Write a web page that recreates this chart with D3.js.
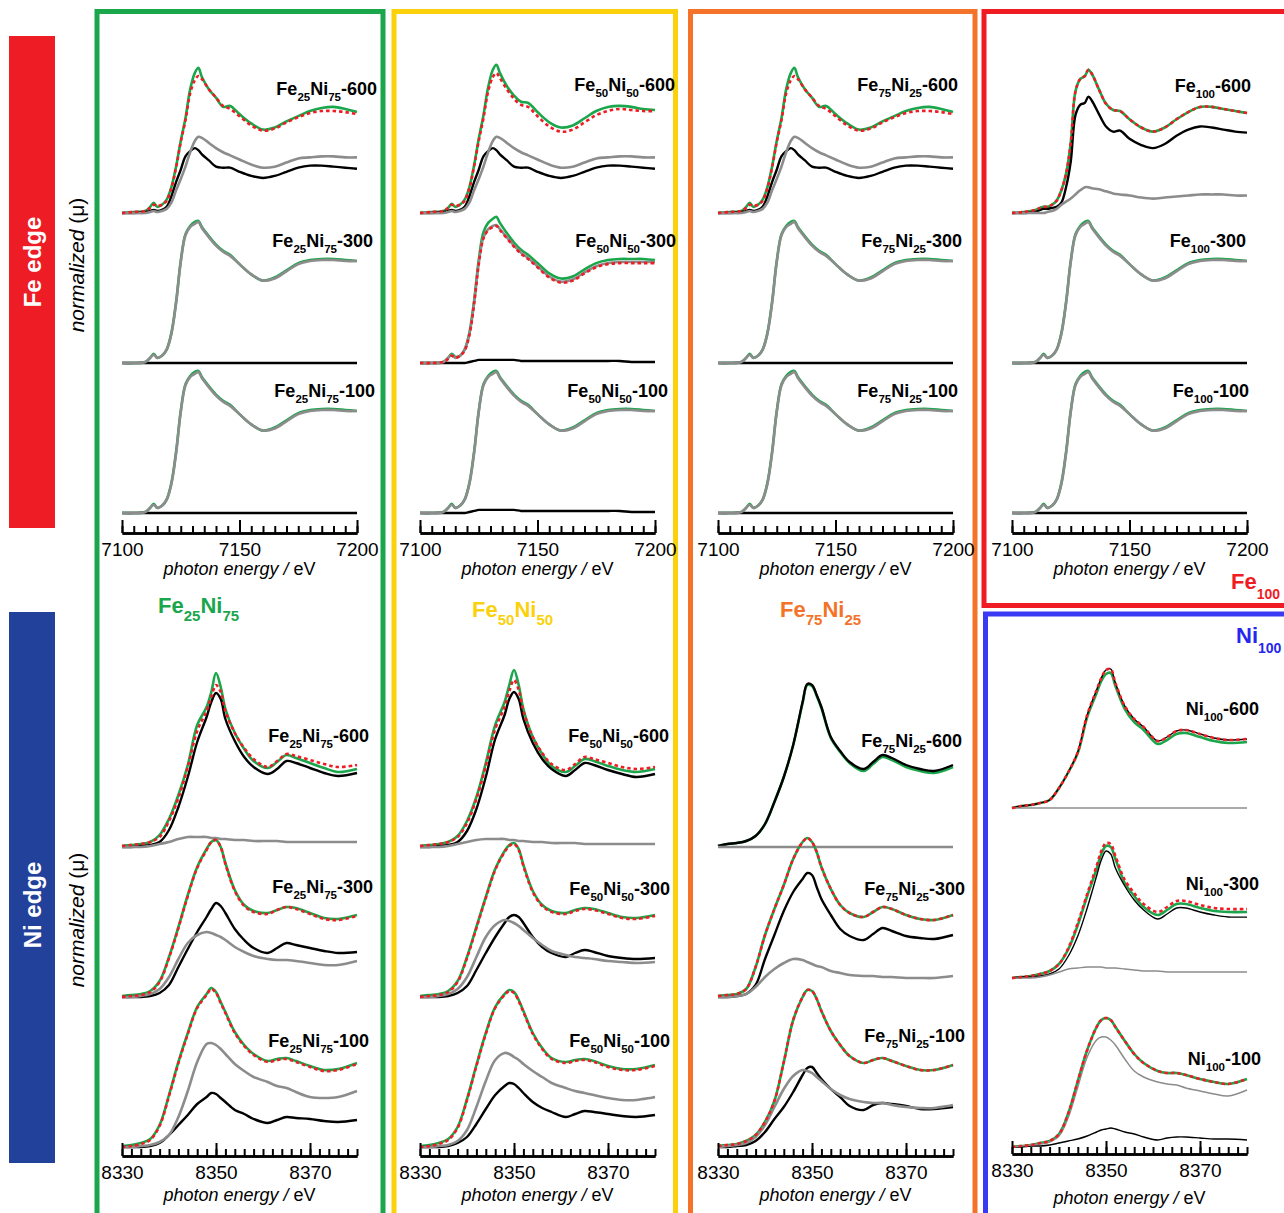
<!DOCTYPE html>
<html>
<head>
<meta charset="utf-8">
<script src="https://cdn.jsdelivr.net/npm/d3@7"></script>
<style>
  body { margin: 0; background: #fff; }
  svg text { font-family: "Liberation Sans", Arial, sans-serif; }
</style>
</head>
<body>
<svg id="chart" width="1284" height="1213"></svg>
<script>
// ---- energy grids and tick labels ----
var feEnergy = [7100, 7105, 7110, 7112, 7113.5, 7115, 7117, 7119, 7121, 7123, 7125, 7127, 7129, 7131, 7132.5,
  7134, 7137, 7140, 7143, 7146, 7150, 7155, 7160, 7165, 7170, 7175, 7180, 7185, 7190, 7195, 7200];
var niEnergy = [8330, 8332, 8334, 8336, 8338, 8340, 8342, 8344, 8346, 8348, 8349, 8350, 8351, 8352,
  8354, 8356, 8358, 8361, 8363, 8365, 8367, 8370, 8373, 8376, 8380];
var feTicks = [7100, 7150, 7200];
var niTicks = [8330, 8350, 8370];

// ---- Fe K-edge spectra (normalized) ----
var feZero = [0,0,0,0,0,0,0,0,0,0,0,0,0,0,0,0,0,0,0,0,0,0,0,0,0,0,0,0,0,0,0];
var feStdGray = [0,0,0.01,0.05,0.08,0.05,0.07,0.13,0.28,0.58,0.98,1.24,1.32,1.35,1.37,1.31,1.22,1.14,1.08,1.04,0.96,0.86,0.80,0.82,0.89,0.96,0.99,1.00,1.00,0.99,0.99];
var feStdGreen = [0,0,0.01,0.05,0.09,0.05,0.07,0.13,0.29,0.59,0.99,1.25,1.33,1.37,1.38,1.32,1.23,1.15,1.09,1.05,0.96,0.86,0.80,0.83,0.90,0.97,1.00,1.01,1.01,1.00,0.99];

var fe600Green = [0,0.01,0.02,0.06,0.10,0.06,0.08,0.13,0.25,0.45,0.70,0.92,1.20,1.36,1.41,1.32,1.20,1.12,1.03,1.04,0.96,0.87,0.81,0.83,0.89,0.94,0.99,1.02,1.03,1.01,0.98];
var fe600Red = [0,0.01,0.02,0.05,0.08,0.07,0.08,0.12,0.24,0.44,0.69,0.90,1.16,1.29,1.33,1.30,1.20,1.12,1.04,1.01,0.94,0.85,0.80,0.82,0.88,0.93,0.97,0.99,0.99,0.98,0.96];
var fe600Black = [0,0,0.01,0.02,0.03,0.02,0.03,0.06,0.16,0.30,0.42,0.55,0.60,0.63,0.61,0.57,0.51,0.45,0.44,0.44,0.40,0.36,0.34,0.36,0.40,0.44,0.46,0.46,0.45,0.44,0.43];
var fe600Gray = [0,0,0,0.01,0.02,0.01,0.02,0.04,0.10,0.22,0.33,0.45,0.59,0.70,0.74,0.73,0.68,0.63,0.59,0.56,0.52,0.47,0.44,0.45,0.49,0.53,0.54,0.55,0.55,0.54,0.54];

var feY600Green = [0,0.01,0.02,0.05,0.09,0.06,0.08,0.13,0.25,0.46,0.72,0.95,1.22,1.39,1.44,1.36,1.23,1.14,1.08,1.07,0.98,0.88,0.83,0.85,0.92,0.99,1.03,1.04,1.03,1.01,1.00];
var feY600Red = [0,0.01,0.02,0.05,0.08,0.07,0.08,0.12,0.24,0.45,0.70,0.92,1.18,1.32,1.36,1.31,1.20,1.11,1.05,1.03,0.94,0.84,0.79,0.81,0.88,0.95,0.99,1.01,1.00,0.99,0.99];
var feY300Green = [0,0,0.01,0.05,0.09,0.06,0.07,0.13,0.29,0.60,1.00,1.27,1.36,1.40,1.42,1.36,1.26,1.17,1.10,1.05,0.97,0.87,0.82,0.84,0.91,0.97,1.00,1.01,1.01,1.01,1.00];
var feY300Red = [0,0,0.01,0.04,0.07,0.05,0.07,0.12,0.27,0.57,0.96,1.21,1.29,1.32,1.33,1.29,1.21,1.13,1.06,1.01,0.93,0.83,0.78,0.80,0.87,0.93,0.96,0.97,0.97,0.97,0.97];
var feY300Gray = [0,0,0.01,0.05,0.08,0.05,0.07,0.13,0.28,0.58,0.97,1.22,1.30,1.33,1.34,1.30,1.22,1.14,1.07,1.02,0.94,0.84,0.79,0.81,0.88,0.94,0.97,0.98,0.98,0.98,0.98];
var feYBlackLow = [0,0,0,0,0,0,0,0,0.01,0.02,0.03,0.03,0.03,0.03,0.03,0.03,0.03,0.03,0.02,0.02,0.02,0.02,0.02,0.02,0.02,0.02,0.02,0.02,0.01,0.01,0.01];

var fe100Green600 = [0,0.01,0.03,0.05,0.06,0.06,0.08,0.12,0.22,0.38,0.68,1.18,1.30,1.33,1.39,1.35,1.20,1.06,1.00,0.99,0.91,0.83,0.79,0.83,0.91,0.98,1.03,1.03,1.01,0.99,0.97];
var fe100Black600 = [0,0,0.01,0.03,0.04,0.04,0.05,0.06,0.10,0.25,0.50,0.95,1.05,1.07,1.13,1.09,0.96,0.84,0.79,0.80,0.72,0.66,0.63,0.67,0.75,0.81,0.84,0.83,0.81,0.79,0.78];
var fe100Gray600 = [0,0,0,0,0,0.01,0.02,0.04,0.08,0.11,0.14,0.18,0.22,0.25,0.25,0.24,0.23,0.21,0.19,0.18,0.17,0.15,0.14,0.15,0.16,0.17,0.18,0.18,0.18,0.17,0.17];

// ---- Ni K-edge spectra (normalized) ----
var niZero = [0,0,0,0,0,0,0,0,0,0,0,0,0,0,0,0,0,0,0,0,0,0,0,0,0];

var niA600Green = [0.01,0.02,0.03,0.05,0.12,0.28,0.52,0.82,1.22,1.40,1.55,1.74,1.60,1.38,1.14,0.98,0.86,0.79,0.85,0.92,0.89,0.84,0.79,0.75,0.78];
var niA600Red = [0.01,0.02,0.03,0.05,0.10,0.26,0.49,0.80,1.16,1.36,1.50,1.62,1.55,1.36,1.14,0.99,0.88,0.80,0.86,0.93,0.91,0.87,0.83,0.80,0.82];
var niA600Black = [0,0,0.01,0.02,0.05,0.17,0.40,0.70,1.05,1.30,1.45,1.54,1.48,1.28,1.06,0.90,0.80,0.73,0.78,0.86,0.84,0.79,0.74,0.71,0.74];
var niA600Gray = [0,0,0,0.01,0.03,0.05,0.08,0.10,0.10,0.10,0.09,0.09,0.08,0.08,0.07,0.07,0.06,0.06,0.06,0.05,0.05,0.05,0.05,0.05,0.05];
var niA300Green = [0.01,0.02,0.03,0.06,0.16,0.40,0.70,1.02,1.30,1.48,1.55,1.57,1.50,1.34,1.07,0.92,0.86,0.84,0.87,0.90,0.89,0.84,0.79,0.78,0.82];
var niA300Red = [0,0.01,0.02,0.05,0.15,0.39,0.69,1.01,1.29,1.47,1.55,1.57,1.50,1.33,1.06,0.91,0.85,0.83,0.87,0.90,0.88,0.83,0.78,0.77,0.81];
var niA300Black = [0,0,0,0.01,0.04,0.12,0.30,0.48,0.65,0.80,0.88,0.94,0.91,0.84,0.68,0.57,0.49,0.44,0.49,0.54,0.52,0.49,0.46,0.44,0.45];
var niA300Gray = [0,0,0.01,0.03,0.08,0.20,0.38,0.54,0.62,0.65,0.64,0.62,0.60,0.57,0.50,0.45,0.41,0.38,0.37,0.37,0.36,0.34,0.32,0.32,0.36];
var niA100Green = [0.01,0.02,0.04,0.08,0.22,0.52,0.85,1.14,1.40,1.53,1.59,1.55,1.45,1.35,1.15,1.02,0.93,0.86,0.88,0.89,0.86,0.81,0.77,0.78,0.84];
var niA100Red = [0,0.01,0.03,0.07,0.21,0.51,0.84,1.13,1.39,1.52,1.58,1.54,1.44,1.34,1.14,1.01,0.92,0.85,0.87,0.88,0.85,0.80,0.76,0.77,0.83];
var niA100Gray = [0,0,0.01,0.02,0.05,0.12,0.30,0.56,0.85,1.03,1.04,1.02,0.98,0.93,0.83,0.76,0.70,0.65,0.61,0.59,0.55,0.50,0.49,0.50,0.56];
var niA100Black = [0,0,0,0.01,0.04,0.12,0.22,0.32,0.43,0.50,0.54,0.53,0.49,0.45,0.37,0.33,0.28,0.24,0.27,0.30,0.29,0.28,0.26,0.25,0.27];

var niB600Green = [0.01,0.02,0.03,0.05,0.11,0.26,0.50,0.84,1.22,1.45,1.62,1.77,1.62,1.38,1.10,0.93,0.81,0.75,0.81,0.88,0.86,0.81,0.77,0.75,0.78];
var niB600Red = [0.01,0.02,0.03,0.05,0.10,0.24,0.48,0.81,1.18,1.40,1.56,1.67,1.57,1.36,1.10,0.94,0.83,0.77,0.83,0.90,0.88,0.84,0.80,0.78,0.80];
var niB600Black = [0,0,0.01,0.02,0.05,0.16,0.38,0.70,1.08,1.32,1.48,1.55,1.48,1.28,1.04,0.88,0.78,0.71,0.77,0.84,0.82,0.77,0.73,0.70,0.73];
var niB600Gray = [0,0,0,0.01,0.03,0.05,0.07,0.08,0.08,0.08,0.07,0.07,0.06,0.06,0.05,0.05,0.04,0.04,0.04,0.03,0.03,0.03,0.03,0.03,0.03];
var niB300Green = [0.01,0.02,0.03,0.06,0.16,0.40,0.70,1.00,1.28,1.46,1.52,1.54,1.48,1.32,1.06,0.92,0.86,0.84,0.87,0.89,0.88,0.84,0.80,0.79,0.82];
var niB300Red = [0,0.01,0.02,0.05,0.15,0.39,0.69,0.99,1.27,1.45,1.51,1.53,1.47,1.31,1.05,0.91,0.85,0.83,0.86,0.88,0.87,0.83,0.79,0.78,0.81];
var niB300Black = [0,0,0,0.01,0.04,0.11,0.27,0.44,0.60,0.74,0.80,0.82,0.80,0.74,0.60,0.50,0.44,0.40,0.44,0.47,0.45,0.41,0.39,0.38,0.39];
var niB300Gray = [0,0,0.01,0.03,0.08,0.20,0.40,0.60,0.72,0.77,0.76,0.74,0.71,0.67,0.59,0.52,0.46,0.42,0.40,0.39,0.38,0.36,0.35,0.34,0.35];
var niB100Green = [0.01,0.02,0.04,0.08,0.20,0.48,0.82,1.14,1.40,1.53,1.57,1.55,1.47,1.36,1.14,0.99,0.89,0.85,0.87,0.88,0.86,0.81,0.78,0.78,0.82];
var niB100Red = [0,0.01,0.03,0.07,0.19,0.47,0.81,1.13,1.39,1.52,1.56,1.54,1.46,1.35,1.13,0.98,0.88,0.84,0.86,0.87,0.85,0.80,0.77,0.77,0.81];
var niB100Gray = [0,0,0.01,0.02,0.06,0.17,0.40,0.66,0.87,0.94,0.93,0.90,0.87,0.83,0.76,0.70,0.64,0.59,0.56,0.54,0.52,0.49,0.47,0.47,0.50];
var niB100Black = [0,0,0,0.01,0.04,0.10,0.23,0.38,0.52,0.61,0.64,0.63,0.59,0.54,0.45,0.39,0.35,0.30,0.33,0.36,0.35,0.33,0.31,0.30,0.32];

var niC600Black = [0.01,0.03,0.04,0.06,0.11,0.23,0.45,0.70,1.02,1.45,1.63,1.62,1.52,1.40,1.10,0.96,0.85,0.78,0.85,0.92,0.89,0.82,0.78,0.76,0.82];
var niC600Green = [0.01,0.03,0.04,0.06,0.11,0.23,0.45,0.70,1.02,1.44,1.62,1.61,1.51,1.39,1.09,0.95,0.84,0.76,0.83,0.90,0.87,0.80,0.76,0.74,0.80];
var niC300Green = [0.01,0.02,0.03,0.08,0.30,0.62,0.88,1.12,1.38,1.55,1.59,1.55,1.45,1.30,1.08,0.92,0.84,0.80,0.85,0.90,0.88,0.82,0.78,0.77,0.82];
var niC300Red = [0.01,0.02,0.03,0.08,0.30,0.62,0.88,1.12,1.38,1.55,1.59,1.55,1.45,1.30,1.08,0.92,0.84,0.80,0.85,0.90,0.88,0.82,0.78,0.77,0.82];
var niC300Black = [0,0,0.01,0.03,0.12,0.38,0.62,0.86,1.05,1.18,1.24,1.22,1.10,0.98,0.82,0.68,0.61,0.57,0.63,0.69,0.66,0.61,0.59,0.58,0.62];
var niC300Gray = [0,0,0.01,0.03,0.10,0.20,0.28,0.34,0.38,0.37,0.35,0.33,0.31,0.30,0.26,0.24,0.22,0.21,0.21,0.20,0.20,0.19,0.19,0.19,0.21];
var niC100Green = [0.01,0.02,0.03,0.06,0.12,0.25,0.46,0.85,1.27,1.50,1.57,1.56,1.48,1.36,1.16,1.02,0.91,0.84,0.87,0.89,0.86,0.81,0.77,0.77,0.82];
var niC100Red = [0.01,0.02,0.03,0.06,0.12,0.25,0.46,0.85,1.27,1.50,1.57,1.56,1.48,1.36,1.16,1.02,0.91,0.84,0.87,0.89,0.86,0.81,0.77,0.77,0.82];
var niC100Gray = [0,0.01,0.02,0.04,0.10,0.22,0.40,0.58,0.71,0.77,0.76,0.74,0.70,0.66,0.58,0.52,0.48,0.45,0.44,0.44,0.42,0.40,0.39,0.39,0.42];
var niC100Black = [0,0,0.01,0.02,0.06,0.15,0.28,0.40,0.55,0.72,0.79,0.80,0.74,0.68,0.58,0.50,0.41,0.37,0.42,0.44,0.43,0.41,0.38,0.38,0.40];

var niD600Black = [0,0.02,0.03,0.05,0.08,0.20,0.36,0.56,0.93,1.18,1.30,1.38,1.39,1.25,1.02,0.89,0.81,0.67,0.71,0.77,0.78,0.74,0.70,0.68,0.69];
var niD600Green = [0,0.02,0.03,0.05,0.08,0.20,0.36,0.55,0.91,1.15,1.27,1.34,1.35,1.22,0.99,0.86,0.78,0.64,0.68,0.74,0.75,0.71,0.67,0.65,0.66];
var niD300Red = [0,0.01,0.02,0.04,0.07,0.14,0.30,0.55,0.84,1.12,1.27,1.35,1.34,1.22,0.98,0.85,0.74,0.66,0.71,0.77,0.77,0.73,0.70,0.69,0.69];
var niD300Green = [0,0.01,0.02,0.04,0.07,0.14,0.29,0.53,0.82,1.09,1.24,1.32,1.31,1.19,0.95,0.82,0.71,0.63,0.68,0.74,0.74,0.70,0.67,0.66,0.66];
var niD300Black = [0,0.01,0.01,0.02,0.04,0.09,0.22,0.42,0.70,1.02,1.18,1.27,1.24,1.10,0.92,0.78,0.68,0.59,0.64,0.70,0.70,0.66,0.63,0.61,0.61];
var niD300Gray = [0,0,0,0.01,0.03,0.06,0.09,0.10,0.11,0.11,0.11,0.10,0.10,0.10,0.09,0.08,0.07,0.07,0.06,0.06,0.06,0.06,0.06,0.06,0.06];
var niD100Green = [0,0.01,0.02,0.04,0.06,0.13,0.34,0.66,0.97,1.20,1.27,1.29,1.27,1.20,1.06,0.93,0.84,0.76,0.74,0.74,0.72,0.68,0.65,0.63,0.68];
var niD100Red = [0,0.01,0.02,0.04,0.06,0.13,0.34,0.66,0.97,1.20,1.27,1.29,1.27,1.20,1.06,0.93,0.84,0.76,0.74,0.74,0.72,0.68,0.65,0.63,0.68];
var niD100Gray = [0,0.01,0.02,0.03,0.05,0.11,0.30,0.60,0.90,1.07,1.10,1.10,1.07,1.02,0.88,0.76,0.70,0.65,0.63,0.62,0.59,0.56,0.53,0.51,0.57];
var niD100Black = [0,0,0.01,0.01,0.02,0.04,0.06,0.08,0.11,0.15,0.17,0.18,0.19,0.18,0.15,0.13,0.10,0.07,0.09,0.10,0.10,0.09,0.08,0.08,0.07];

// ---- sample names ----
var compositions = [['25', '75'], ['50', '50'], ['75', '25'], ['100', null]];
var temperatures = ['-600', '-300', '-100'];

// Layout
var colX = [122, 420, 718, 1012], colW = 235;
var feBase = [213, 363, 513], feUnit = 103, feAxisY = 533;
var niBase = [[847, 997, 1147], [847, 997, 1147], [847, 997, 1147], [808, 978, 1147]], niUnit = 100;
var niAxisY = [1156, 1156, 1156, 1154];

var green = '#1aa64b', red = '#f01c24', gray = '#8c8c8c';
var yellow = '#fbd10c', orange = '#f47329', blue = '#3a3af4', navy = '#22419a';

// table of what goes into each panel
var panels = [
  {edge: 'fe', col: 0, row: 0, green: fe600Green, red: fe600Red, black: fe600Black, gray: fe600Gray},
  {edge: 'fe', col: 0, row: 1, green: feStdGreen, black: feZero, gray: feStdGray},
  {edge: 'fe', col: 0, row: 2, green: feStdGreen, black: feZero, gray: feStdGray},
  {edge: 'fe', col: 1, row: 0, green: feY600Green, red: feY600Red, black: fe600Black, gray: fe600Gray},
  {edge: 'fe', col: 1, row: 1, green: feY300Green, black: feYBlackLow, gray: feY300Gray, red: feY300Red},
  {edge: 'fe', col: 1, row: 2, green: feStdGreen, black: feYBlackLow, gray: feStdGray},
  {edge: 'fe', col: 2, row: 0, green: fe600Green, red: fe600Red, black: fe600Black, gray: fe600Gray},
  {edge: 'fe', col: 2, row: 1, green: feStdGreen, black: feZero, gray: feStdGray},
  {edge: 'fe', col: 2, row: 2, green: feStdGreen, black: feZero, gray: feStdGray},
  {edge: 'fe', col: 3, row: 0, green: fe100Green600, red: fe100Green600, black: fe100Black600, gray: fe100Gray600},
  {edge: 'fe', col: 3, row: 1, green: feStdGreen, black: feZero, gray: feStdGray},
  {edge: 'fe', col: 3, row: 2, green: feStdGreen, black: feZero, gray: feStdGray},
  {edge: 'ni', col: 0, row: 0, green: niA600Green, black: niA600Black, gray: niA600Gray, red: niA600Red},
  {edge: 'ni', col: 0, row: 1, green: niA300Green, black: niA300Black, gray: niA300Gray, red: niA300Red},
  {edge: 'ni', col: 0, row: 2, green: niA100Green, black: niA100Black, gray: niA100Gray, red: niA100Red},
  {edge: 'ni', col: 1, row: 0, green: niB600Green, black: niB600Black, gray: niB600Gray, red: niB600Red},
  {edge: 'ni', col: 1, row: 1, green: niB300Green, black: niB300Black, gray: niB300Gray, red: niB300Red},
  {edge: 'ni', col: 1, row: 2, green: niB100Green, black: niB100Black, gray: niB100Gray, red: niB100Red},
  {edge: 'ni', col: 2, row: 0, green: niC600Green, gray: niZero, black: niC600Black},
  {edge: 'ni', col: 2, row: 1, green: niC300Green, black: niC300Black, gray: niC300Gray, red: niC300Red},
  {edge: 'ni', col: 2, row: 2, green: niC100Green, black: niC100Black, gray: niC100Gray, red: niC100Red},
  {edge: 'ni', col: 3, row: 0, green: niD600Green, gray: niZero, black: niD600Black, red: niD600Black},
  {edge: 'ni', col: 3, row: 1, green: niD300Green, black: niD300Black, gray: niD300Gray, red: niD300Red},
  {edge: 'ni', col: 3, row: 2, green: niD100Green, black: niD100Black, gray: niD100Gray, red: niD100Red}
];

var feLabelPos = [[[377, 95], [373, 247], [375, 397]], [[675, 91], [676, 247], [668, 397]],
  [[958, 91], [962, 247], [958, 397]], [[1251, 92], [1246, 247], [1249, 397]]];
var niLabelPos = [[[369, 742], [373, 893], [369, 1047]], [[669, 742], [670, 895], [670, 1047]],
  [[962, 747], [965, 895], [965, 1042]], [[1259, 715], [1259, 890], [1261, 1065]]];

var svg = d3.select('#chart');

// coloured frames
var frames = [
  {x1: 97, y1: 11.5, x2: 383, y2: 1216, c: green},
  {x1: 394, y1: 11.5, x2: 675.5, y2: 1216, c: yellow},
  {x1: 690.5, y1: 11.5, x2: 975, y2: 1216, c: orange},
  {x1: 984, y1: 11.5, x2: 1300, y2: 605.5, c: red},
  {x1: 985.5, y1: 614, x2: 1300, y2: 1230, c: blue}
];
svg.selectAll('rect.frame').data(frames).enter().append('rect')
  .attr('class', 'frame')
  .attr('x', function (d) { return d.x1; })
  .attr('y', function (d) { return d.y1; })
  .attr('width', function (d) { return d.x2 - d.x1; })
  .attr('height', function (d) { return d.y2 - d.y1; })
  .style('fill', 'none').style('stroke', function (d) { return d.c; }).style('stroke-width', 5);

// left side bars
svg.append('rect').attr('x', 9).attr('y', 36).attr('width', 46).attr('height', 492).style('fill', '#ee1c25');
svg.append('rect').attr('x', 9).attr('y', 612).attr('width', 46).attr('height', 551).style('fill', navy);
[['Fe edge', 262], ['Ni edge', 905]].forEach(function (t) {
  svg.append('text').attr('transform', 'translate(41,' + t[1] + ') rotate(-90)')
    .attr('text-anchor', 'middle').style('font-size', '24px').style('font-weight', 'bold')
    .style('fill', '#fff').text(t[0]);
});
[265, 920].forEach(function (cy) {
  var t = svg.append('text').attr('transform', 'translate(84,' + cy + ') rotate(-90)')
    .attr('text-anchor', 'middle').style('font-size', '21px');
  t.append('tspan').style('font-style', 'italic').text('normalized');
  t.append('tspan').text(' (\u03bc)');
});

// formula text with subscripts
function formula(x, y, parts, size, subSize, drop, color, anchor) {
  var t = svg.append('text').attr('x', x).attr('y', y).attr('text-anchor', anchor)
    .style('font-size', size + 'px').style('font-weight', 'bold').style('fill', color);
  var down = false;
  parts.forEach(function (p) {
    var s = t.append('tspan').text(p[0]);
    if (p[1] && !down) { s.attr('dy', drop).style('font-size', subSize + 'px'); down = true; }
    else if (p[1]) { s.style('font-size', subSize + 'px'); }
    else if (down) { s.attr('dy', -drop); down = false; }
  });
}
function sampleParts(edge, col, temp) {
  var c = compositions[col];
  if (c[1] === null) return [[edge === 'fe' ? 'Fe' : 'Ni', 0], [c[0], 1], [temp, 0]];
  return [['Fe', 0], [c[0], 1], ['Ni', 0], [c[1], 1], [temp, 0]];
}

// spectra
panels.forEach(function (p) {
  var isFe = p.edge === 'fe';
  var x = d3.scaleLinear().domain(isFe ? [7100, 7200] : [8330, 8380]).range([colX[p.col], colX[p.col] + colW]);
  var base = isFe ? feBase[p.row] : niBase[p.col][p.row];
  var y = d3.scaleLinear().domain([0, 1]).range([base, base - (isFe ? feUnit : niUnit)]);
  var en = isFe ? feEnergy : niEnergy;
  var line = d3.line()
    .x(function (d, i) { return x(en[i]); })
    .y(function (d) { return y(d); })
    .curve(d3.curveCatmullRom.alpha(0.5));
  var thin = !isFe && p.col === 3;
  var styles = {
    green: {c: green, w: 2.6},
    black: {c: '#000', w: thin ? 1.4 : 2.4},
    gray: {c: gray, w: thin ? 1.5 : 2.6},
    red: {c: red, w: 2.6, dash: '3.5,3'}
  };
  ['green', 'black', 'gray', 'red'].forEach(function (k) {
    if (!p[k]) return;
    svg.append('path').datum(p[k]).attr('d', line)
      .style('fill', 'none').style('stroke', styles[k].c).style('stroke-width', styles[k].w)
      .style('stroke-dasharray', styles[k].dash || null).style('stroke-linejoin', 'round');
  });
  var pos = isFe ? feLabelPos[p.col][p.row] : niLabelPos[p.col][p.row];
  formula(pos[0], pos[1], sampleParts(p.edge, p.col, temperatures[p.row]), 18, 11.5, 6, '#000', 'end');
});

// axes
[0, 1, 2, 3].forEach(function (col) {
  ['fe', 'ni'].forEach(function (edge) {
    var isFe = edge === 'fe';
    var x = d3.scaleLinear().domain(isFe ? [7100, 7200] : [8330, 8380]).range([colX[col], colX[col] + colW]);
    var ay = isFe ? feAxisY : niAxisY[col];
    var g = svg.append('g').attr('transform', 'translate(0,' + ay + ')');
    g.call(d3.axisBottom(x).tickValues(isFe ? d3.range(7100, 7201, 5) : d3.range(8330, 8381, 2))
      .tickSize(-7).tickSizeOuter(0).tickFormat(''));
    var g2 = svg.append('g').attr('transform', 'translate(0,' + ay + ')');
    g2.call(d3.axisBottom(x).tickValues(isFe ? feTicks : niTicks).tickSize(-13).tickSizeOuter(0).tickPadding(10)
      .tickFormat(d3.format('d')));
    [g, g2].forEach(function (a) {
      a.selectAll('path').style('stroke', '#000').style('stroke-width', 2.6);
      a.selectAll('line').style('stroke', '#000').style('stroke-width', 2);
      a.selectAll('text').style('font-size', '19px').style('fill', '#000')
        .style('font-family', '"Liberation Sans", Arial, sans-serif');
    });
    var ty = isFe ? 575 : (col === 3 ? 1204 : 1201);
    var t = svg.append('text').attr('x', colX[col] + colW / 2).attr('y', ty)
      .attr('text-anchor', 'middle').style('font-size', '18px');
    t.append('tspan').style('font-style', 'italic').text('photon energy /');
    t.append('tspan').text(' eV');
  });
});

// composition titles
formula(158, 613, [['Fe', 0], ['25', 1], ['Ni', 0], ['75', 1]], 22, 15, 8, green, 'start');
formula(472, 617, [['Fe', 0], ['50', 1], ['Ni', 0], ['50', 1]], 22, 15, 8, yellow, 'start');
formula(780, 617, [['Fe', 0], ['75', 1], ['Ni', 0], ['25', 1]], 22, 15, 8, orange, 'start');
formula(1231, 589, [['Fe', 0], ['100', 1]], 22, 14, 10, red, 'start');
formula(1236, 643, [['Ni', 0], ['100', 1]], 22, 14, 10, '#2626ee', 'start');
</script>
</body>
</html>
